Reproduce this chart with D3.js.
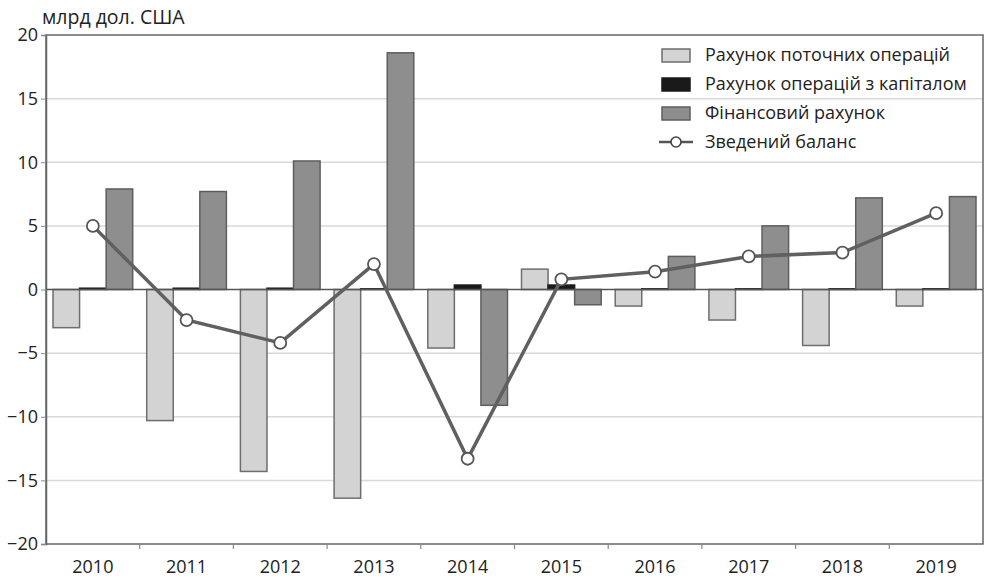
<!DOCTYPE html>
<html lang="uk">
<head>
<meta charset="UTF-8" />
<title>Платіжний баланс</title>
<script src="https://d3js.org/d3.v7.min.js"></script>
<style>
  body { margin: 0; background: #fff; }
  text { font-family: "Open Sans", sans-serif; fill: #222; }
</style>
</head>
<body>
<script>
var years = ["2010", "2011", "2012", "2013", "2014", "2015", "2016", "2017", "2018", "2019"];
var current = [-3.0, -10.3, -14.3, -16.4, -4.6, 1.6, -1.3, -2.4, -4.4, -1.3];
var capital = [0.1, 0.1, 0.1, 0.05, 0.35, 0.35, 0.05, 0.05, 0.05, 0.05];
var financial = [7.9, 7.7, 10.1, 18.6, -9.1, -1.2, 2.6, 5.0, 7.2, 7.3];
var balance = [5.0, -2.4, -4.2, 2.0, -13.3, 0.8, 1.4, 2.6, 2.9, 6.0];
var yTicks = [-20, -15, -10, -5, 0, 5, 10, 15, 20];
var seriesNames = ["Рахунок поточних операцій", "Рахунок операцій з капіталом", "Фінансовий рахунок", "Зведений баланс"];

var W = 985, H = 581;
var margin = { top: 35, right: 2, bottom: 37, left: 46 };
var width = W - margin.left - margin.right,
    height = H - margin.top - margin.bottom;

var svg = d3.select("body").append("svg")
  .attr("width", W).attr("height", H);
var g = svg.append("g")
  .attr("transform", "translate(" + margin.left + "," + margin.top + ")");

var x = d3.scaleBand().domain(years).range([0, width]);
var y = d3.scaleLinear().domain([-20, 20]).range([height, 0]);
var inner = d3.scaleBand().domain([0, 1, 2]).range([7, x.bandwidth() - 7]);

// gridlines
g.selectAll(".grid").data(yTicks.filter(d => d != 0 && d != 20 && d != -20))
  .enter().append("line")
  .attr("x1", 0).attr("x2", width)
  .attr("y1", d => y(d)).attr("y2", d => y(d))
  .attr("stroke", "#d9d9d9").attr("stroke-width", 1.5);

// frame
g.append("rect")
  .attr("x", 0).attr("y", 0).attr("width", width).attr("height", height)
  .attr("fill", "none").attr("stroke", "#666").attr("stroke-width", 1.5);

var series = [
  { vals: current, fill: "#d3d3d3", stroke: "#6e6e6e" },
  { vals: capital, fill: "#1a1a1a", stroke: "#1a1a1a" },
  { vals: financial, fill: "#8e8e8e", stroke: "#5e5e5e" }
];

series.forEach(function (s, si) {
  g.selectAll(".bar" + si).data(s.vals).enter().append("rect")
    .attr("x", (d, i) => x(years[i]) + inner(si))
    .attr("width", inner.bandwidth())
    .attr("y", d => y(Math.max(0, d)))
    .attr("height", d => Math.abs(y(d) - y(0)))
    .attr("fill", s.fill)
    .attr("stroke", s.stroke)
    .attr("stroke-width", 1.5);
});

// zero line
g.append("line")
  .attr("x1", 0).attr("x2", width)
  .attr("y1", y(0)).attr("y2", y(0))
  .attr("stroke", "#555").attr("stroke-width", 1.5);

// y axis
var yAxis = d3.axisLeft(y).tickValues(yTicks).tickSize(5).tickFormat(d => d < 0 ? "\u2212" + Math.abs(d) : d);
var ya = g.append("g").call(yAxis);
ya.select(".domain").attr("stroke", "#666").attr("stroke-width", 1.5);
ya.selectAll(".tick line").attr("stroke", "#888");
ya.selectAll(".tick text").attr("font-size", 18).attr("x", -8).style("font-family", "'Open Sans', sans-serif").attr("fill", "#222");

// x axis: ticks at band boundaries
var xa = g.append("g").attr("transform", "translate(0," + height + ")");
xa.selectAll("line").data(years.slice(1)).enter().append("line")
  .attr("x1", d => x(d)).attr("x2", d => x(d))
  .attr("y1", 0).attr("y2", 5)
  .attr("stroke", "#888").attr("stroke-width", 1.2);
xa.selectAll("text").data(years).enter().append("text")
  .attr("x", d => x(d) + x.bandwidth() / 2)
  .attr("y", 29)
  .attr("text-anchor", "middle")
  .attr("font-size", 18)
  .text(d => d);

// balance line
var line = d3.line()
  .x((d, i) => x(years[i]) + x.bandwidth() / 2)
  .y(d => y(d));
g.append("path").datum(balance)
  .attr("d", line)
  .attr("fill", "none")
  .attr("stroke", "#606060")
  .attr("stroke-width", 3.5);
g.selectAll(".pt").data(balance).enter().append("circle")
  .attr("cx", (d, i) => x(years[i]) + x.bandwidth() / 2)
  .attr("cy", d => y(d))
  .attr("r", 6)
  .attr("fill", "#fff")
  .attr("stroke", "#555")
  .attr("stroke-width", 1.8);

// unit label
svg.append("text")
  .attr("x", 42).attr("y", 24)
  .attr("font-size", 19.5)
  .text("млрд дол. США");

// legend
var legend = svg.append("g").attr("transform", "translate(662,55)");
var legendStyles = [
  { fill: "#d3d3d3", stroke: "#6e6e6e" },
  { fill: "#1a1a1a", stroke: "#1a1a1a" },
  { fill: "#8e8e8e", stroke: "#5e5e5e" }
];
seriesNames.forEach(function (name, i) {
  var row = legend.append("g").attr("transform", "translate(0," + (i * 29) + ")");
  if (i < 3) {
    row.append("rect")
      .attr("x", 0).attr("y", -6).attr("width", 28).attr("height", 13)
      .attr("fill", legendStyles[i].fill)
      .attr("stroke", legendStyles[i].stroke)
      .attr("stroke-width", 1.5);
  } else {
    row.append("line").attr("x1", -3).attr("x2", 31).attr("y1", 0).attr("y2", 0)
      .attr("stroke", "#555").attr("stroke-width", 2.5);
    row.append("circle").attr("cx", 14).attr("cy", 0).attr("r", 5)
      .attr("fill", "#fff").attr("stroke", "#444").attr("stroke-width", 1.6);
  }
  row.append("text")
    .attr("x", 43).attr("y", 6)
    .attr("font-size", 18)
    .text(name);
});
</script>
</body>
</html>
